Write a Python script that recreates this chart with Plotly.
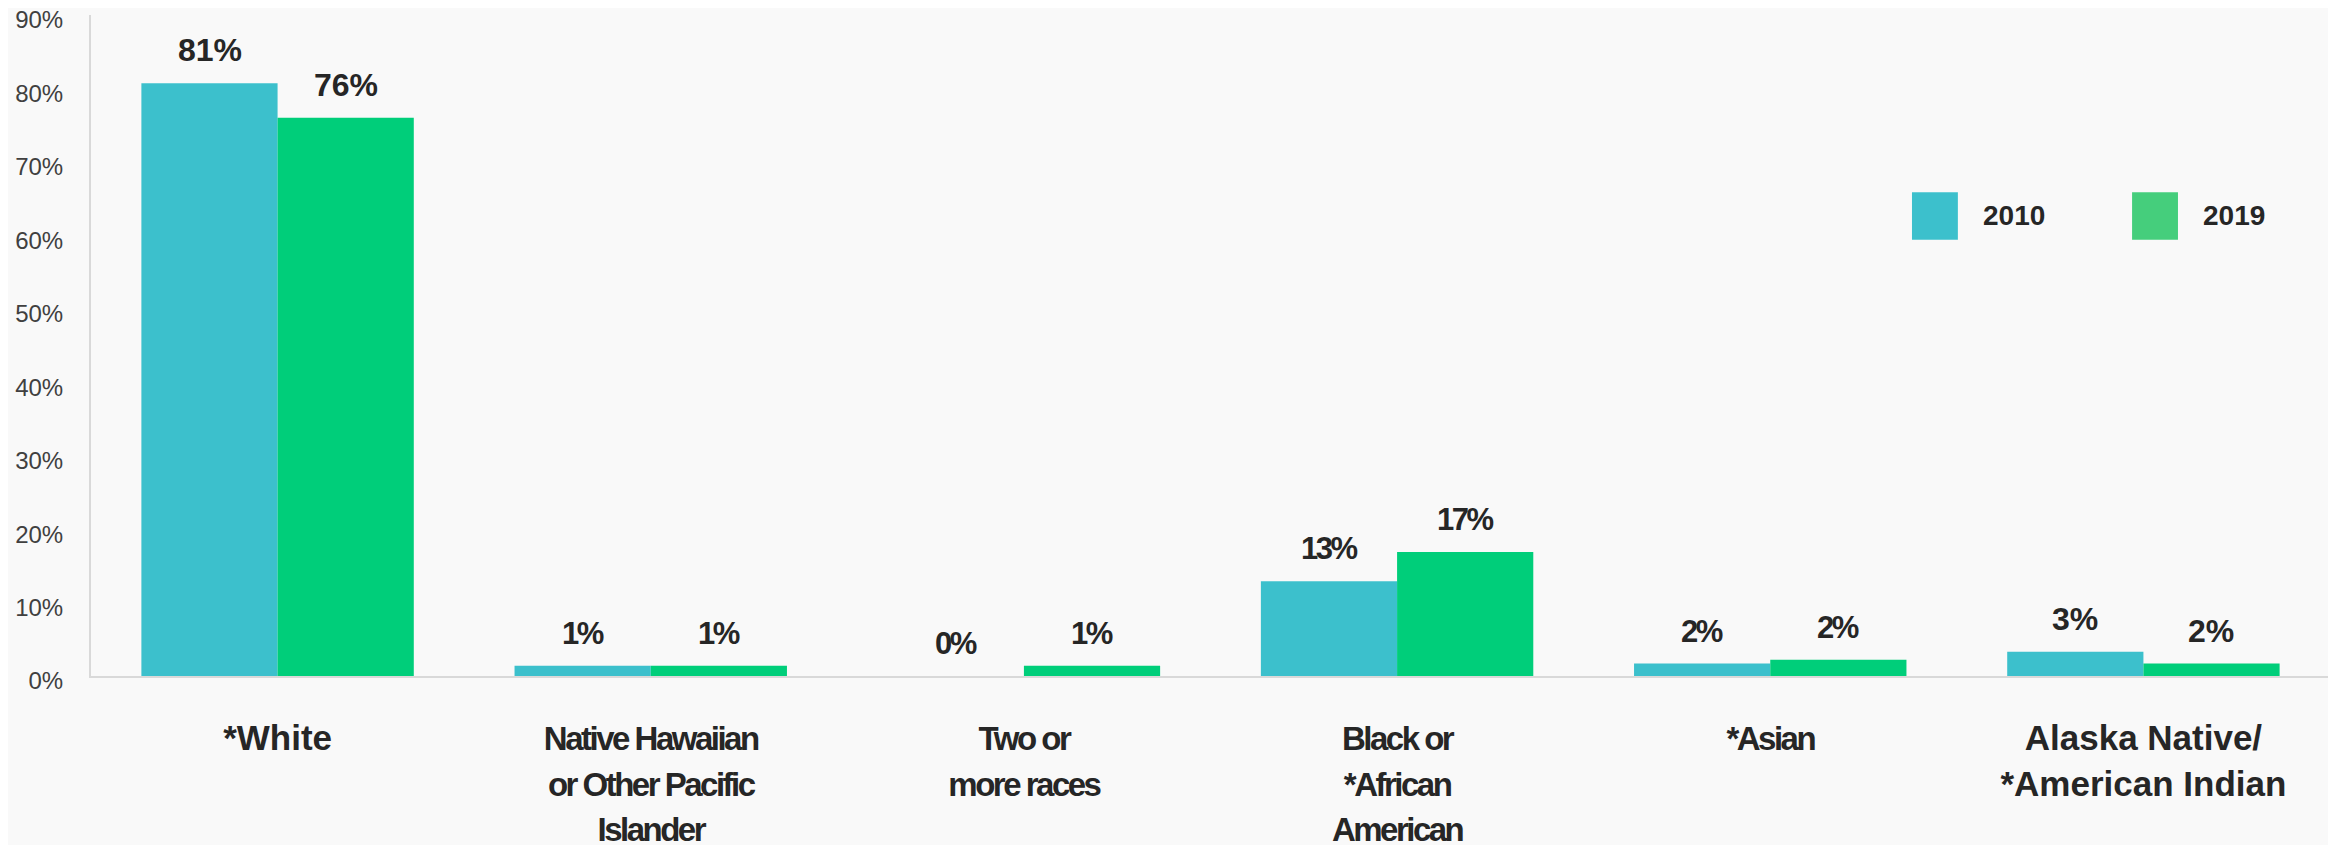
import plotly.graph_objects as go

categories = ["*White", "Native Hawaiian<br>or Other Pacific<br>Islander", "Two or<br>more races",
              "Black or<br>*African<br>American", "*Asian", "Alaska Native/<br>*American Indian"]
cat_keys = ["White", "NHPI", "Two", "Black", "Asian", "AIAN"]
vals_2010 = [80.7, 1.4, 0.0, 12.9, 1.7, 3.3]
vals_2019 = [76.0, 1.4, 1.4, 16.9, 2.2, 1.7]
labels_2010 = ["81%", "1%", "0%", "13%", "2%", "3%"]
labels_2019 = ["76%", "1%", "1%", "17%", "2%", "2%"]
narrow = [False, True, True, True, True, False]
series_names = ["2010", "2019"]
bar_colors = ["#3CC0CC", "#00CE7A"]
legend_colors = ["#3CC0CC", "#45CE7C"]
y_ticks = [0, 10, 20, 30, 40, 50, 60, 70, 80, 90]
y_ticktext = ["%d%%" % v for v in y_ticks]

REG = "Liberation Sans, Arial, sans-serif"
TXT = "#262626"
BG = "#f9f9f9"

fig = go.Figure()
for name, vals, col in zip(series_names, [vals_2010, vals_2019], bar_colors):
    fig.add_trace(go.Bar(x=cat_keys, y=vals, name=name, marker_color=col,
                         marker_line_width=0, showlegend=False))

# value labels
for i, key in enumerate(cat_keys):
    for vals, labs, shift in [(vals_2010, labels_2010, -68), (vals_2019, labels_2019, 68)]:
        if narrow[i]:
            txt = '<span style="letter-spacing:-2.5px"><b>%s</b></span>' % labs[i]
            size = 31
        else:
            txt = "<b>%s</b>" % labs[i]
            size = 32
        fig.add_annotation(x=key, y=vals[i], text=txt, showarrow=False,
                           xshift=shift, yshift=13, yanchor="bottom", xanchor="center",
                           font=dict(family=REG, size=size, color=TXT))

ticktext = []
for c, n in zip(categories, narrow):
    if n:
        ticktext.append('<span style="font-size:33px;letter-spacing:-2.5px">%s</span>' % c)
    else:
        ticktext.append('<span style="font-size:35px">%s</span>' % c)

# the page body has an 8px margin; shrink the figure so the plot lands where the reference has it
fig.update_layout(
    width=2328, height=837,
    margin=dict(l=83, r=6, t=7, b=169),
    paper_bgcolor=BG, plot_bgcolor="rgba(0,0,0,0)",
    barmode="group", bargap=0.27, bargroupgap=0,
    font=dict(family=REG, color=TXT),
    xaxis=dict(tickvals=cat_keys, ticktext=ticktext, showline=True, linecolor="#d9d9d9", linewidth=2,
               ticks="outside", ticklen=30, tickcolor="rgba(0,0,0,0)", automargin=False,
               tickfont=dict(family=REG, size=35, color=TXT, weight="bold"), showgrid=False),
    yaxis=dict(range=[0, 90], tickvals=y_ticks, ticktext=y_ticktext, showline=True, linecolor="#d9d9d9",
               linewidth=2, ticks="outside", ticklen=21, tickcolor="rgba(0,0,0,0)", showgrid=False,
               automargin=False, zeroline=False, ticklabeloverflow="allow", ticklabelshift=5,
               tickfont=dict(family=REG, size=24, color="#404040")),
)

# custom legend (large swatches)
leg_x = [0.8133, 0.9116]
for name, col, lx in zip(series_names, legend_colors, leg_x):
    fig.add_shape(type="rect", xref="paper", yref="paper", x0=lx, x1=lx + 0.0205,
                  y0=0.660, y1=0.732, fillcolor=col, line_width=0)
    fig.add_annotation(xref="paper", yref="paper", x=lx + 0.031, y=0.696, text="<b>%s</b>" % name,
                       showarrow=False, xanchor="left", yanchor="middle",
                       font=dict(family=REG, size=28, color=TXT))

fig.write_html("out.html")
